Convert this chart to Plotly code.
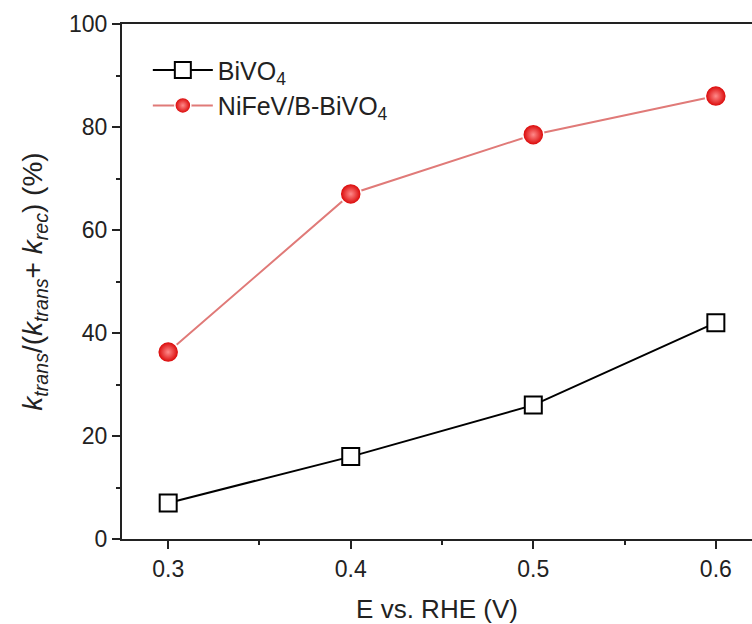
import plotly.graph_objects as go

potential = [0.3, 0.4, 0.5, 0.6]
bivo4 = [7, 16, 26, 42]
nifev = [36.3, 67, 78.5, 86]
x_ticks = [0.3, 0.4, 0.5, 0.6]
y_ticks = [0, 20, 40, 60, 80, 100]

FONT = "Liberation Sans, Arial, sans-serif"
INK = "#222"

fig = go.Figure()
fig.add_trace(go.Scatter(
    x=potential, y=bivo4, mode="lines+markers", name="BiVO<sub>4</sub>",
    line=dict(color="black", width=2),
    marker=dict(symbol="square", size=17, color="white",
                line=dict(color="black", width=2)),
))
fig.add_trace(go.Scatter(
    x=potential, y=nifev, mode="lines+markers", name="NiFeV/B-BiVO<sub>4</sub>",
    line=dict(color="#e07a78", width=2),
    marker=dict(symbol="circle", size=21, color="#d80000",
                gradient=dict(type="radial", color="#ff8a8a"),
                line=dict(color="white", width=1.5)),
))

fig.update_layout(
    width=752, height=624,
    margin=dict(l=122, r=0, t=24, b=85),
    paper_bgcolor="white", plot_bgcolor="white",
    font=dict(family=FONT, size=24, color=INK),
    showlegend=True,
    legend=dict(x=0.041, y=0.955, xanchor="left", yanchor="top",
                font=dict(family=FONT, size=25, color=INK),
                bgcolor="rgba(0,0,0,0)", itemwidth=60, tracegroupgap=0),
    xaxis=dict(
        range=[0.2747, 0.6198], tickvals=x_ticks, ticktext=[f"{v:.1f}" for v in x_ticks],
        tickfont=dict(family=FONT, size=23, color=INK),
        showline=True, linecolor=INK, linewidth=2, mirror=True,
        ticks="outside", ticklen=8, tickwidth=2, tickcolor=INK,
        minor=dict(dtick=0.05, tick0=0.25, ticks="outside", ticklen=4, tickwidth=2, tickcolor=INK),
        showgrid=False, zeroline=False,
        title=dict(text="E vs. RHE (V)", font=dict(family=FONT, size=26, color=INK), standoff=20),
    ),
    yaxis=dict(
        range=[0, 100], tickvals=y_ticks,
        tickfont=dict(family=FONT, size=23, color=INK),
        showline=True, linecolor=INK, linewidth=2,
        ticks="outside", ticklen=8, tickwidth=2, tickcolor=INK,
        minor=dict(dtick=10, tick0=0, ticks="outside", ticklen=4, tickwidth=2, tickcolor=INK),
        showgrid=False, zeroline=False,
        title=dict(text="<i>k</i><sub><i>trans</i></sub>/(<i>k</i><sub><i>trans</i></sub>+ <i>k</i><sub><i>rec</i></sub>) (%)",
                   font=dict(family=FONT, size=28, color=INK), standoff=18),
    ),
)
fig.write_html("out.html")
